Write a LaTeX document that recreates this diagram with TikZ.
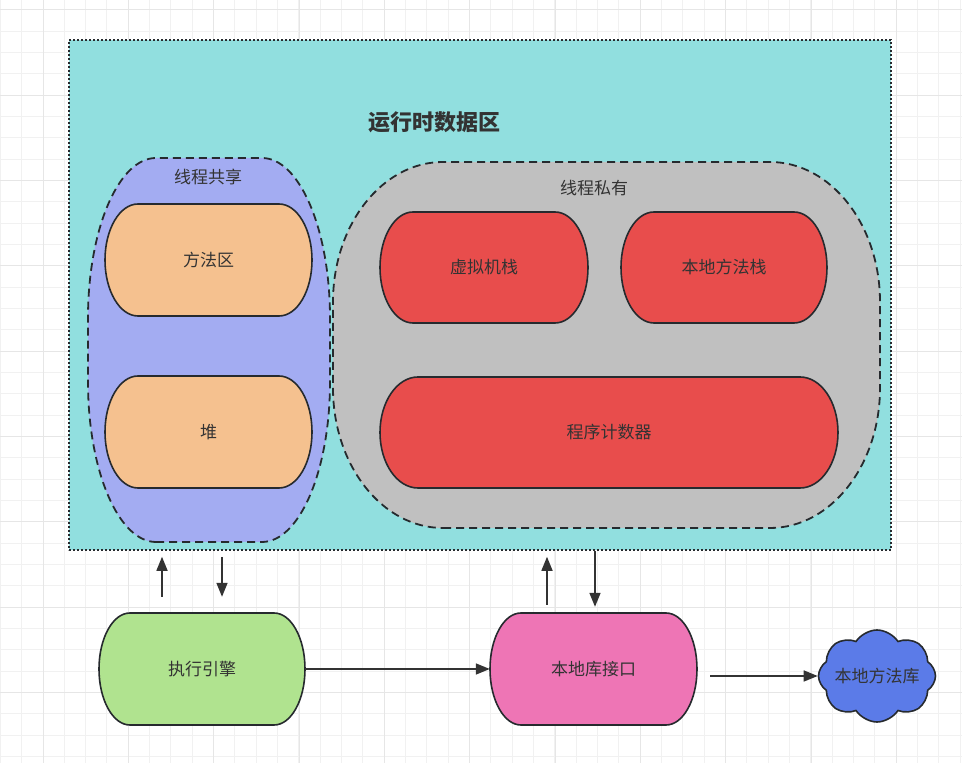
\documentclass[tikz,border=0pt]{standalone}
\usepackage{fontspec}
\newfontfamily\cjk{Noto Sans CJK SC}
\usetikzlibrary{arrows.meta, shapes.symbols}

\definecolor{gridminor}{HTML}{F1F1F1}
\definecolor{gridmajor}{HTML}{E6E6E6}
\definecolor{rdafill}{HTML}{91DFDF}
\definecolor{sharefill}{HTML}{A3ACF2}
\definecolor{privfill}{HTML}{C0C0C0}
\definecolor{peach}{HTML}{F5C18F}
\definecolor{redbox}{HTML}{E84D4C}
\definecolor{greenbox}{HTML}{B0E38F}
\definecolor{pinkbox}{HTML}{EE75B5}
\definecolor{cloudfill}{HTML}{5B7BE8}
\definecolor{ink}{HTML}{333333}
\definecolor{edge}{HTML}{262A2E}

\newcommand{\lbl}{\cjk\fontsize{17}{20}\selectfont}

\begin{document}
\begin{tikzpicture}[
    x=1pt, y=1pt,
    % outline with elliptical corners: x, y (lower left), w, h, rx, ry
    blob/.style n args={6}{insert path={(#1+#5,#2) -- (#1+#3-#5,#2)
        arc[start angle=-90, end angle=0, x radius=#5, y radius=#6] -- (#1+#3,#2+#4-#6)
        arc[start angle=0, end angle=90, x radius=#5, y radius=#6] -- (#1+#5,#2+#4)
        arc[start angle=90, end angle=180, x radius=#5, y radius=#6] -- (#1,#2+#6)
        arc[start angle=180, end angle=270, x radius=#5, y radius=#6] -- cycle}},
    solidline/.style={draw=edge, line width=1.6pt},
    group/.style={draw=edge, line width=1.8pt, dash pattern=on 8pt off 5pt},
    label/.style={font=\lbl, text=ink, inner sep=0pt},
    term/.style={label, minimum width=#1, minimum height=112},
    arr/.style={-{Triangle[length=14pt, width=11pt]}, draw=ink, line width=1.6pt}
]
\useasboundingbox (0,0) rectangle (962,763);

% background grid
\foreach \k in {-2,...,43} \draw[gridminor, line width=1pt] ({43+21.333*\k},0) -- ++(0,763);
\foreach \k in {0,...,35} \draw[gridminor, line width=1pt] (0,{753-21.333*\k}) -- ++(962,0);
\foreach \k in {0,...,10} \draw[gridmajor, line width=1pt] ({43+85.333*\k},0) -- ++(0,763);
\foreach \k in {0,...,8} \draw[gridmajor, line width=1pt] (0,{753-85.333*\k}) -- ++(962,0);

% runtime data area
\node[draw=edge, fill=rdafill, line width=1.6pt, dash pattern=on 1.6pt off 2.4pt,
      minimum width=822, minimum height=510, inner sep=0pt] (rda) at (480,468) {};
\node[font=\cjk\bfseries\fontsize{22}{26}\selectfont, text=ink] (title) at (434,641) {运行时数据区};

% shared / private groups
\path[group, fill=sharefill, blob={88}{221}{242}{384}{68}{160}];
\path[group, fill=privfill, blob={333}{235}{547}{366}{110}{140}];
\node[label] (shared) at (208,586) {线程共享};
\node[label] (private) at (594,575) {线程私有};

% areas
\path[solidline, fill=peach, blob={105}{447}{207}{112}{33}{56}];
\path[solidline, fill=peach, blob={105}{275}{207}{112}{33}{56}];
\path[solidline, fill=redbox, blob={380}{440}{208}{111}{33}{55.5}];
\path[solidline, fill=redbox, blob={621}{440}{206}{111}{33}{55.5}];
\path[solidline, fill=redbox, blob={380}{275}{458}{111}{38}{55.5}];
\path[solidline, fill=greenbox, blob={99}{38}{206}{112}{31}{56}];
\path[solidline, fill=pinkbox, blob={490}{38}{207}{112}{31}{56}];

\node[term=207] (method) at (208.5,503) {方法区};
\node[term=207] (heap) at (208.5,331) {堆};
\node[term=208] (vmstack) at (484,495.5) {虚拟机栈};
\node[term=206] (nstack) at (724,495.5) {本地方法栈};
\node[term=458] (pc) at (609,330.5) {程序计数器};
\node[term=206] (exec) at (202,94) {执行引擎};
\node[term=207] (jni) at (593.5,94) {本地库接口};
\node[cloud, cloud puffs=8, cloud puff arc=115, aspect=1.3, solidline, fill=cloudfill,
      minimum width=117, minimum height=92, inner sep=0pt] (natlib) at (877,87) {};
\node[label] (natlibtext) at (natlib.center) {本地方法库};

% connectors
\draw[arr, shorten <=16pt, shorten >=6pt] ([xshift=-40]exec.north) -- ([xshift=-40]exec.north |- rda.south);
\draw[arr, shorten <=6pt, shorten >=16pt] ([xshift=20]exec.north |- rda.south) -- ([xshift=20]exec.north);
\draw[arr] (exec) -- (jni);
\draw[arr, shorten <=8pt, shorten >=6pt] ([xshift=-46.5]jni.north) -- ([xshift=-46.5]jni.north |- rda.south);
\draw[arr, shorten >=6pt] ([xshift=1.5]jni.north |- rda.south) -- ([xshift=1.5]jni.north);
\draw[arr, shorten <=13pt] (jni.east |- natlib.west) -- (natlib.west);
\end{tikzpicture}
\end{document}
